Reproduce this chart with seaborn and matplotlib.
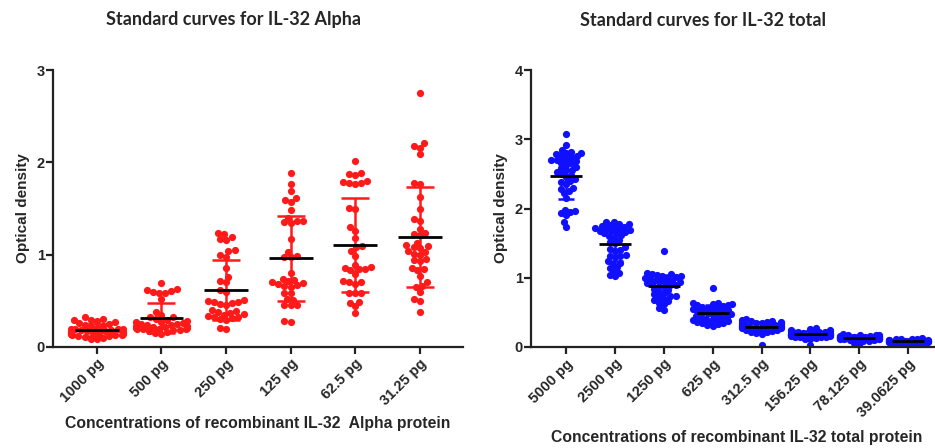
import numpy as np
import pandas as pd
import matplotlib
matplotlib.use("Agg")
import matplotlib.pyplot as plt
import seaborn as sns
import warnings
warnings.filterwarnings("ignore")

# ---------------- data ----------------
alpha_labels = ["1000 pg", "500 pg", "250 pg", "125 pg", "62.5 pg", "31.25 pg"]
alpha_1000 = [0.32, 0.30, 0.29, 0.29, 0.28, 0.27, 0.26, 0.25, 0.24, 0.23, 0.22, 0.21, 0.20, 0.20,
              0.19, 0.19, 0.18, 0.18, 0.17, 0.17, 0.16, 0.16, 0.16, 0.15, 0.15, 0.15, 0.14, 0.14,
              0.14, 0.13, 0.13, 0.13, 0.12, 0.12, 0.11, 0.10, 0.09, 0.09]
alpha_500 = [0.69, 0.63, 0.62, 0.61, 0.60, 0.59, 0.58, 0.52, 0.38, 0.35, 0.33, 0.32, 0.30, 0.29,
             0.28, 0.27, 0.27, 0.26, 0.25, 0.25, 0.24, 0.24, 0.23, 0.23, 0.22, 0.22, 0.21, 0.21,
             0.20, 0.20, 0.19, 0.19, 0.18, 0.18, 0.17, 0.16, 0.15, 0.14]
alpha_250 = [1.24, 1.22, 1.19, 1.17, 1.16, 1.05, 1.04, 1.00, 0.98, 0.86, 0.76, 0.72, 0.70, 0.62,
             0.60, 0.51, 0.50, 0.49, 0.49, 0.48, 0.47, 0.46, 0.40, 0.39, 0.38, 0.37, 0.36, 0.35,
             0.34, 0.33, 0.32, 0.31, 0.30, 0.29, 0.21, 0.19]
alpha_125 = [1.88, 1.76, 1.69, 1.61, 1.59, 1.57, 1.48, 1.40, 1.37, 1.36, 1.35, 1.34, 1.17, 1.03,
             0.99, 0.97, 0.97, 0.80, 0.74, 0.73, 0.71, 0.70, 0.69, 0.68, 0.67, 0.66, 0.65, 0.59,
             0.58, 0.52, 0.51, 0.46, 0.45, 0.45, 0.28, 0.27]
alpha_62 = [2.01, 1.88, 1.87, 1.86, 1.80, 1.79, 1.78, 1.78, 1.77, 1.51, 1.49, 1.30, 1.26, 1.18,
            1.09, 1.08, 1.04, 0.99, 0.89, 0.87, 0.86, 0.85, 0.84, 0.83, 0.79, 0.72, 0.70, 0.70,
            0.68, 0.59, 0.58, 0.58, 0.49, 0.48, 0.44, 0.37]
alpha_31 = [2.75, 2.21, 2.18, 2.16, 2.09, 1.78, 1.76, 1.62, 1.50, 1.39, 1.36, 1.28, 1.24, 1.22,
            1.21, 1.13, 1.10, 1.09, 1.08, 1.07, 1.04, 1.03, 1.01, 1.00, 0.95, 0.94, 0.93, 0.86,
            0.84, 0.83, 0.77, 0.70, 0.66, 0.65, 0.60, 0.52, 0.50, 0.38]

total_labels = ["5000 pg", "2500 pg", "1250 pg", "625 pg", "312.5 pg", "156.25 pg",
                "78.125 pg", "39.0625 pg"]
total_5000 = [3.08, 2.92, 2.85, 2.82, 2.80, 2.80, 2.78, 2.76, 2.75, 2.74, 2.72, 2.70, 2.70, 2.68,
              2.66, 2.65, 2.63, 2.60, 2.58, 2.56, 2.55, 2.52, 2.50, 2.48, 2.45, 2.42, 2.40, 2.38,
              2.35, 2.30, 2.28, 2.25, 2.22, 2.15, 1.98, 1.97, 1.95, 1.93, 1.90, 1.80, 1.73]
total_2500 = [1.81, 1.80, 1.78, 1.77, 1.76, 1.75, 1.74, 1.73, 1.72, 1.71, 1.70, 1.69, 1.68, 1.67,
              1.66, 1.65, 1.64, 1.62, 1.60, 1.58, 1.55, 1.52, 1.50, 1.44, 1.42, 1.40, 1.38, 1.33,
              1.32, 1.31, 1.30, 1.24, 1.22, 1.20, 1.16, 1.14, 1.10, 1.07, 1.04, 1.02]
total_1250 = [1.38, 1.07, 1.06, 1.05, 1.04, 1.03, 1.02, 1.01, 1.00, 0.99, 0.98, 0.97, 0.96, 0.95,
              0.94, 0.93, 0.92, 0.91, 0.90, 0.89, 0.88, 0.86, 0.84, 0.82, 0.80, 0.78, 0.76, 0.74,
              0.73, 0.72, 0.70, 0.68, 0.66, 0.64, 0.62, 0.56, 0.54]
total_625 = [0.85, 0.64, 0.63, 0.62, 0.62, 0.61, 0.60, 0.59, 0.58, 0.57, 0.56, 0.55, 0.54, 0.53,
             0.52, 0.51, 0.50, 0.49, 0.48, 0.47, 0.46, 0.45, 0.44, 0.43, 0.42, 0.41, 0.40, 0.39,
             0.38, 0.37, 0.36, 0.35, 0.34, 0.33, 0.32, 0.31]
total_312 = [0.40, 0.39, 0.38, 0.37, 0.36, 0.36, 0.35, 0.35, 0.34, 0.34, 0.33, 0.33, 0.32, 0.32,
             0.31, 0.31, 0.30, 0.30, 0.29, 0.29, 0.28, 0.28, 0.27, 0.27, 0.26, 0.25, 0.24, 0.23,
             0.22, 0.21, 0.20, 0.19, 0.03]
total_156 = [0.27, 0.26, 0.25, 0.24, 0.23, 0.23, 0.22, 0.22, 0.21, 0.21, 0.20, 0.20, 0.20, 0.19,
             0.19, 0.19, 0.18, 0.18, 0.18, 0.17, 0.17, 0.16, 0.16, 0.15, 0.15, 0.14, 0.14, 0.13,
             0.12, 0.11, 0.03]
total_78 = [0.19, 0.18, 0.18, 0.17, 0.17, 0.16, 0.16, 0.16, 0.15, 0.15, 0.15, 0.14, 0.14, 0.14,
            0.13, 0.13, 0.13, 0.12, 0.12, 0.12, 0.11, 0.11, 0.10, 0.10, 0.09, 0.08, 0.06, 0.03]
total_39 = [0.13, 0.12, 0.12, 0.11, 0.11, 0.10, 0.10, 0.10, 0.09, 0.09, 0.09, 0.08, 0.08, 0.08,
            0.07, 0.07, 0.07, 0.06, 0.06, 0.05, 0.05, 0.04, 0.03, 0.02]

alpha_values = [alpha_1000, alpha_500, alpha_250, alpha_125, alpha_62, alpha_31]
total_values = [total_5000, total_2500, total_1250, total_625, total_312, total_156,
                total_78, total_39]


def long_df(labels, groups):
    rows = []
    for lab, vals in zip(labels, groups):
        for v in vals:
            rows.append((lab, v))
    return pd.DataFrame(rows, columns=["conc", "od"])


df_a = long_df(alpha_labels, alpha_values)
df_t = long_df(total_labels, total_values)

sns.set_theme(style="ticks")
plt.rcParams["font.family"] = ["Liberation Sans", "DejaVu Sans"]

fig = plt.figure(figsize=(9.35, 4.48), dpi=100)
W, H = 935, 448


def add_ax(x0, x1, y_top, y_bot):
    return fig.add_axes([x0 / W, 1 - y_bot / H, (x1 - x0) / W, (y_bot - y_top) / H])


ax1 = add_ax(53, 463, 70, 347)
ax2 = add_ax(531, 935, 70, 347)

DOT = 5.2


def panel(ax, df, labels, color, ylim, yticks, xlim, mean_half, cap, xlabel, swarm_size):
    sns.swarmplot(data=df, x="conc", y="od", order=labels, color=color, size=swarm_size,
                  linewidth=0, ax=ax, zorder=2)
    stats = df.groupby("conc", sort=False)["od"].agg(["mean", "std"]).reindex(labels)
    xs = np.arange(len(labels))
    ax.errorbar(xs, stats["mean"], yerr=stats["std"], fmt="none", ecolor=color,
                elinewidth=1.8, capsize=cap, capthick=1.8, zorder=3)
    ax.hlines(stats["mean"], xs - mean_half, xs + mean_half, color="black", lw=2, zorder=4)
    ax.set_ylim(*ylim)
    ax.set_xlim(*xlim)
    ax.set_yticks(yticks)
    ax.set_yticklabels([str(t) for t in yticks], fontweight="bold", fontsize=10.5)
    ax.set_xticks(xs)
    ax.set_xticklabels(labels, rotation=45, ha="right", rotation_mode="anchor",
                       fontweight="bold", fontsize=10.5)
    ax.set_ylabel("Optical density", fontweight="bold", fontsize=11)
    ax.set_xlabel(xlabel, fontweight="bold", fontsize=11.3)
    for s in ["top", "right"]:
        ax.spines[s].set_visible(False)
    for s in ["left", "bottom"]:
        ax.spines[s].set_linewidth(1.6)
        ax.spines[s].set_color("#222222")
    ax.tick_params(axis="both", width=1.6, length=5, color="#222222", pad=2)
    ax.tick_params(axis="y", pad=1)


panel(ax1, df_a, alpha_labels, "#ff1a1a", (0, 3), [0, 1, 2, 3], (-0.68, 5.67), 0.34, 10,
      "Concentrations of recombinant IL-32  Alpha protein", 4.3)
panel(ax2, df_t, total_labels, "#1010ff", (0, 4), [0, 1, 2, 3, 4], (-0.72, 7.55), 0.33, 6,
      "Concentrations of recombinant IL-32 total protein", 3.7)

ax1.yaxis.set_label_coords(-0.056, 0.5)
ax2.yaxis.set_label_coords(-0.057, 0.5)
ax1.xaxis.set_label_coords(0.5, -0.25)
ax2.xaxis.set_label_coords(0.51, -0.3)

fig.text(233 / W, 1 - 20 / H, "Standard curves for IL-32 Alpha", ha="center", va="center",
         fontsize=13, fontweight="bold", family=["Lato", "DejaVu Sans"])
fig.text(703 / W, 1 - 20 / H, "Standard curves for IL-32 total", ha="center", va="center",
         fontsize=13, fontweight="bold", family=["Lato", "DejaVu Sans"])

# Let seaborn compute the swarm layout (tighter packing, Prism-like overlap),
# then freeze it and show the dots at their full size.
fig.canvas.draw()
for ax in (ax1, ax2):
    for coll in ax.collections:
        if "draw" in coll.__dict__:
            del coll.draw
            coll.set_sizes([DOT ** 2])

fig.savefig("out.png", dpi=100)
